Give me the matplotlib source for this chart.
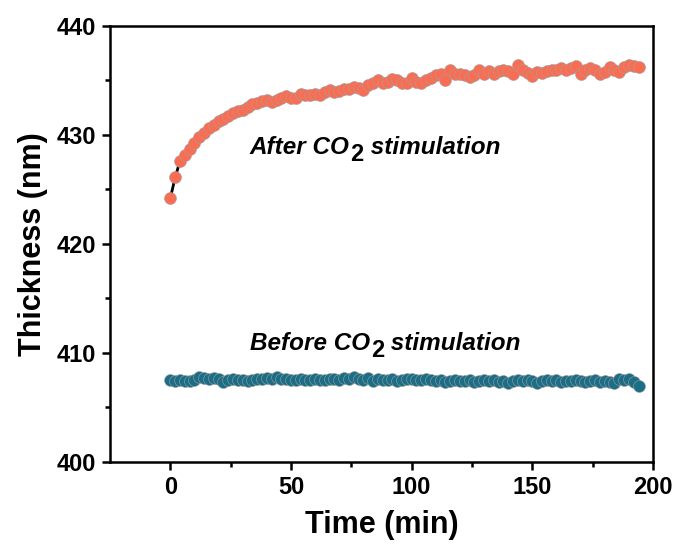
import matplotlib
matplotlib.use("Agg")
import matplotlib.pyplot as plt
from matplotlib.ticker import FixedLocator
from matplotlib.transforms import offset_copy

plt.rcParams['font.family'] = ['Liberation Sans', 'DejaVu Sans']
plt.rcParams['font.weight'] = 'bold'

time_min = [0, 2, 4, 6, 8, 10, 12, 14, 16, 18,
            20, 22, 24, 26, 28, 30, 32, 34, 36, 38,
            40, 42, 44, 46, 48, 50, 52, 54, 56, 58,
            60, 62, 64, 66, 68, 70, 72, 74, 76, 78,
            80, 82, 84, 86, 88, 90, 92, 94, 96, 98,
            100, 102, 104, 106, 108, 110, 112, 114, 116, 118,
            120, 122, 124, 126, 128, 130, 132, 134, 136, 138,
            140, 142, 144, 146, 148, 150, 152, 154, 156, 158,
            160, 162, 164, 166, 168, 170, 172, 174, 176, 178,
            180, 182, 184, 186, 188, 190, 192, 194]

after_co2 = [424.2, 426.1, 427.6, 428.2, 428.7, 429.3, 429.8, 430.2, 430.6, 430.9,
             431.3, 431.5, 431.7, 432.0, 432.2, 432.3, 432.6, 432.8, 432.9, 433.1,
             433.2, 433.0, 433.2, 433.4, 433.6, 433.4, 433.4, 433.8, 433.7, 433.7,
             433.8, 433.7, 433.9, 434.1, 433.9, 434.0, 434.2, 434.2, 434.4, 434.3,
             434.1, 434.6, 434.8, 435.0, 434.8, 434.9, 435.1, 435.0, 434.8, 434.8,
             435.2, 434.9, 434.8, 435.0, 435.2, 435.5, 435.6, 435.0, 436.0, 435.6,
             435.6, 435.5, 435.3, 435.5, 436.0, 435.6, 435.9, 435.6, 435.9, 436.0,
             435.9, 435.6, 436.4, 436.0, 435.7, 435.4, 435.8, 435.7, 435.9, 436.0,
             436.0, 436.1, 436.0, 436.1, 436.3, 435.6, 436.0, 436.1, 436.0, 435.6,
             435.8, 436.2, 436.0, 435.8, 436.2, 436.4, 436.3, 436.2]

before_co2 = [407.5, 407.4, 407.5, 407.4, 407.4, 407.5, 407.8, 407.7, 407.6, 407.7,
              407.6, 407.3, 407.5, 407.6, 407.5, 407.5, 407.4, 407.5, 407.6, 407.6,
              407.7, 407.6, 407.8, 407.6, 407.6, 407.5, 407.5, 407.6, 407.5, 407.5,
              407.6, 407.5, 407.5, 407.6, 407.6, 407.5, 407.7, 407.6, 407.8, 407.6,
              407.5, 407.7, 407.4, 407.6, 407.5, 407.5, 407.6, 407.4, 407.5, 407.6,
              407.6, 407.5, 407.5, 407.6, 407.5, 407.4, 407.5, 407.3, 407.4, 407.5,
              407.4, 407.4, 407.5, 407.3, 407.4, 407.5, 407.4, 407.5, 407.3, 407.4,
              407.2, 407.4, 407.5, 407.4, 407.5, 407.4, 407.2, 407.4, 407.5, 407.4,
              407.5, 407.3, 407.4, 407.4, 407.5, 407.4, 407.3, 407.4, 407.5, 407.3,
              407.4, 407.3, 407.2, 407.6, 407.5, 407.6, 407.3, 407.0]

x_ticks = [0, 50, 100, 150, 200]
y_ticks = [400, 410, 420, 430, 440]
labels = [("After CO", "2", " stimulation", 428.25),
          ("Before CO", "2", " stimulation", 410.3)]

fig = plt.figure(figsize=(6.76, 5.53), dpi=100)
ax = fig.add_axes([0.1627, 0.1646, 0.8033, 0.7884])

for y, c in [(before_co2, '#1B6E86'), (after_co2, '#F96E52')]:
    ax.plot(time_min, y, color='black', lw=2.0, zorder=2)
    ax.plot(time_min, y, ls='none', marker='o', ms=8.6, mfc=c,
            mec='#a0a0a0', mew=0.4, zorder=3)

ax.set_xlim(-25, 200)
ax.set_ylim(400, 440)
ax.set_xticks(x_ticks)
ax.set_yticks(y_ticks)
ax.xaxis.set_minor_locator(FixedLocator([25, 75, 125, 175]))
ax.yaxis.set_minor_locator(FixedLocator([405, 415, 425, 435]))

for s in ax.spines.values():
    s.set_linewidth(1.8)
ax.tick_params(which='major', direction='out', length=6, width=1.8,
               labelsize=17, pad=4)
ax.tick_params(which='minor', direction='out', length=3.5, width=1.8)
for lab in ax.get_xticklabels() + ax.get_yticklabels():
    lab.set_fontweight('bold')

ax.set_xlabel('Time (min)', fontsize=22, fontweight='bold', labelpad=8)
ax.set_ylabel('Thickness (nm)', fontsize=22, fontweight='bold', labelpad=6)

fig.canvas.draw()
renderer = fig.canvas.get_renderer()
for a, sub, b, yv in labels:
    t1 = ax.text(33, yv, a, fontsize=17.5, fontweight='bold', fontstyle='italic',
                 va='baseline', ha='left')
    w1 = t1.get_window_extent(renderer).width * 72 / fig.dpi
    tr2 = offset_copy(t1.get_transform(), fig=fig, x=w1 + 0.5, y=-5, units='points')
    t2 = ax.text(33, yv, sub, fontsize=17, fontweight='bold', fontstyle='normal',
                 va='baseline', ha='left', transform=tr2)
    w2 = t2.get_window_extent(renderer).width * 72 / fig.dpi
    tr3 = offset_copy(t1.get_transform(), fig=fig, x=w1 + w2 + 0.5, y=0, units='points')
    ax.text(33, yv, b, fontsize=17.5, fontweight='bold', fontstyle='italic',
            va='baseline', ha='left', transform=tr3)

fig.savefig('out.png', dpi=100)
